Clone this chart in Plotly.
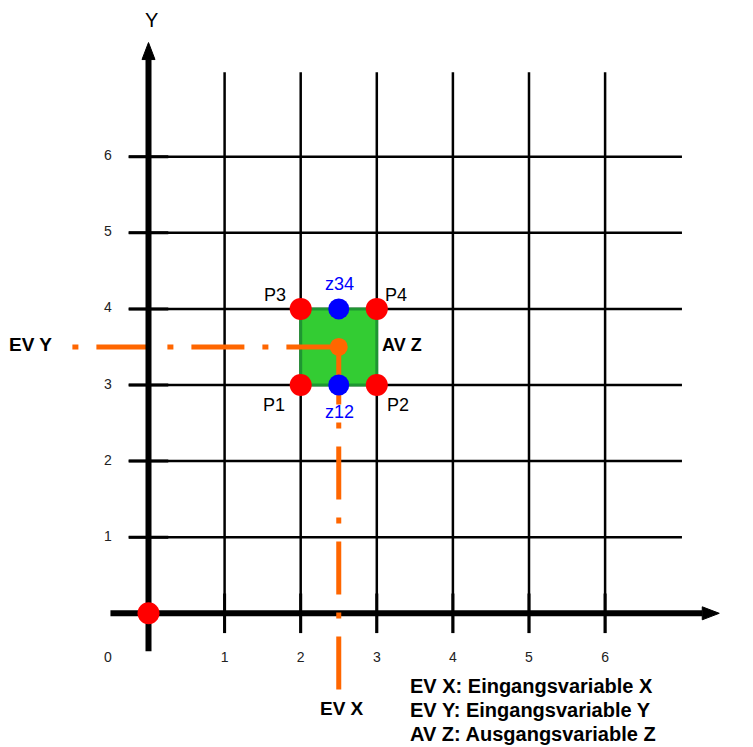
import plotly.graph_objects as go

# grid / tick values
GRID = [1, 2, 3, 4, 5, 6]
TICK_LABELS = ["1", "2", "3", "4", "5", "6"]
ORIGIN_LABEL = "0"

# interpolation cell and its points
CELL_X = [2, 3]
CELL_Y = [3, 4]
CORNER_NAMES = ["P1", "P2", "P3", "P4"]
CORNER_X = [2, 3, 2, 3]
CORNER_Y = [3, 3, 4, 4]
MID_NAMES = ["z12", "z34"]
MID_X = [2.5, 2.5]
MID_Y = [3, 4]
EV_X = 2.5
EV_Y = 3.5
ORIGIN_X = [0]
ORIGIN_Y = [0]
LEGEND = ["EV X: Eingangsvariable X",
          "EV Y: Eingangsvariable Y",
          "AV Z: Ausgangsvariable Z"]

PX = 76.1           # pixels per unit
PAGE_PAD = 8        # body margin of the html page
W, H = 753 - PAGE_PAD, 747 - PAGE_PAD
X0_PX, Y0_PX = 148.5 - PAGE_PAD, 613.3 - PAGE_PAD
FONT = "Arial, Liberation Sans, sans-serif"
ORANGE = "#ff6600"

GRID_LO, GRID_HI_X, GRID_HI_Y = -0.26, 7.01, 7.11
AX_LO, AX_HI = -0.5, 7.5
HEAD_L, HEAD_W = 17 / PX, 6.5 / PX


def segs(pairs):
    xs, ys = [], []
    for (xa, ya), (xb, yb) in pairs:
        xs += [xa, xb, None]
        ys += [ya, yb, None]
    return xs, ys


fig = go.Figure()

def line(xs, ys, width, color="black", dash=None):
    fig.add_trace(go.Scatter(x=xs, y=ys, mode="lines",
                             line=dict(color=color, width=width, dash=dash),
                             hoverinfo="skip", showlegend=False))

# grid
vx, vy = segs([((g, GRID_LO), (g, GRID_HI_Y)) for g in GRID])
line(vx, vy, 2.5)
hx, hy = segs([((GRID_LO, g), (GRID_HI_X, g)) for g in GRID])
line(hx, hy, 2.5)
# tick marks (slightly thicker near the axes)
tx, ty = segs([((g, -0.26), (g, 0.26)) for g in GRID] +
              [((-0.26, g), (0.26, g)) for g in GRID])
line(tx, ty, 3)

# x axis with arrow head
line([AX_LO, AX_HI - HEAD_L], [0, 0], 6)
fig.add_trace(go.Scatter(x=[AX_HI - HEAD_L, AX_HI, AX_HI - HEAD_L, AX_HI - HEAD_L],
                         y=[HEAD_W, 0, -HEAD_W, HEAD_W], mode="lines", fill="toself",
                         fillcolor="black", line=dict(color="black", width=1),
                         hoverinfo="skip", showlegend=False))

# green cell
fig.add_trace(go.Scatter(x=[CELL_X[0], CELL_X[1], CELL_X[1], CELL_X[0], CELL_X[0]],
                         y=[CELL_Y[0], CELL_Y[0], CELL_Y[1], CELL_Y[1], CELL_Y[0]],
                         mode="lines", fill="toself", fillcolor="#33cc33",
                         line=dict(color="#1e9632", width=3),
                         hoverinfo="skip", showlegend=False))

# input variable lines (dash-dot)
line([-1, EV_X], [EV_Y, EV_Y], 5, ORANGE, "6px,18px,53px,18px")
line([EV_X, EV_X], [-1, EV_Y], 5, ORANGE, "53px,18px,6px,18px")

# y axis with arrow head
line([0, 0], [AX_LO, AX_HI - HEAD_L], 6)
fig.add_trace(go.Scatter(x=[-HEAD_W, 0, HEAD_W, -HEAD_W],
                         y=[AX_HI - HEAD_L, AX_HI, AX_HI - HEAD_L, AX_HI - HEAD_L],
                         mode="lines", fill="toself", fillcolor="black",
                         line=dict(color="black", width=1),
                         hoverinfo="skip", showlegend=False))

# points
def pts(xs, ys, color, size):
    fig.add_trace(go.Scatter(x=xs, y=ys, mode="markers",
                             marker=dict(color=color, size=size, line=dict(width=0)),
                             hoverinfo="skip", showlegend=False))

pts(ORIGIN_X, ORIGIN_Y, "#ff0000", 22)
pts(CORNER_X, CORNER_Y, "#ff0000", 22)
pts(MID_X, MID_Y, "#0000ff", 21)
pts([EV_X], [EV_Y], ORANGE, 18)

# tick labels
lab_off = -40.5 / PX
fig.add_trace(go.Scatter(x=GRID + [lab_off], y=[-0.59] * len(GRID) + [-0.59],
                         mode="text", text=TICK_LABELS + [ORIGIN_LABEL],
                         textfont=dict(family=FONT, size=14, color="#222"),
                         hoverinfo="skip", showlegend=False))
fig.add_trace(go.Scatter(x=[lab_off] * len(GRID), y=GRID, mode="text",
                         text=TICK_LABELS,
                         textfont=dict(family=FONT, size=14, color="#222"),
                         hoverinfo="skip", showlegend=False))

ann = []
def text(x, y, s, size=18, color="black", bold=False, xs=0, ys=0,
         xanchor="center", yanchor="middle", align="center"):
    if bold:
        s = "<b>" + s + "</b>"
    ann.append(dict(x=x, y=y, text=s, showarrow=False, xshift=xs, yshift=ys,
                    xanchor=xanchor, yanchor=yanchor, align=align,
                    font=dict(family=FONT, size=size, color=color)))

# axis names
text(0, AX_HI, "Y", size=20, xs=3, ys=23)
text(AX_HI, 0, "X", size=20, xanchor="left", xs=25, ys=-5)

# corner labels
shifts = [(-27, -20), (21, -20), (-26, 14), (19, 14)]
for n, x, y, (sx, sy) in zip(CORNER_NAMES, CORNER_X, CORNER_Y, shifts):
    text(x, y, n, xs=sx, ys=sy)
for n, x, y, sy in zip(MID_NAMES, MID_X, MID_Y, [-27, 25]):
    text(x, y, n, color="#0000ff", xs=1, ys=sy)

text(CELL_X[1], EV_Y, "AV Z", bold=True, xanchor="left", xs=3, ys=2)
text(-1, EV_Y, "EV Y", size=19, bold=True, xanchor="right", xs=-18, ys=2)
text(EV_X, -1, "EV X", size=19, bold=True, xs=3, ys=-19)
for i, s in enumerate(LEGEND):
    text(3.44, -1.0, s, size=20, bold=True, xanchor="left", xs=-2, ys=3 - 24 * i)

fig.update_layout(
    width=W, height=H,
    margin=dict(l=0, r=0, t=0, b=0),
    plot_bgcolor="white", paper_bgcolor="white",
    xaxis=dict(range=[-X0_PX / PX, (W - X0_PX) / PX], visible=False, fixedrange=True),
    yaxis=dict(range=[(Y0_PX - H) / PX, Y0_PX / PX], visible=False, fixedrange=True),
    annotations=ann,
)

fig.write_html("out.html")
